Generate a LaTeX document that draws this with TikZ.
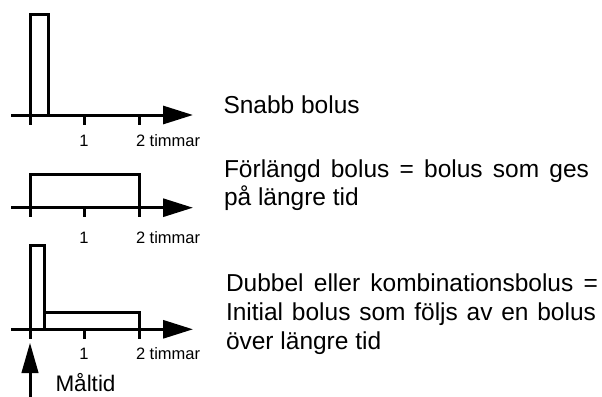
\documentclass[tikz,border=0pt]{standalone}
\usepackage{fontspec}
\setmainfont{Liberation Sans}
\usetikzlibrary{arrows.meta}
\begin{document}
\begin{tikzpicture}[x=1pt,y=-1pt,
  line width=3pt,
  axisline/.style={-{Triangle[length=30pt,width=18pt]}},
  tickline/.style={line cap=butt},
  barbox/.style={line join=miter},
  lbl/.style={inner sep=0pt, anchor=base west, font=\fontsize{24.5}{28}\selectfont},
  ticklbl/.style={inner sep=0pt, anchor=base, font=\fontsize{16.5}{19}\selectfont},
  unitlbl/.style={inner sep=0pt, anchor=base west, font=\fontsize{16.5}{19}\selectfont}]
\useasboundingbox (0,0) rectangle (602,396);

% ---------- chart 1 ----------
\coordinate (a1s) at (11,115);
\coordinate (a1e) at (193,115);
\draw[barbox] (30,115) rectangle (48,15);
\draw[axisline] (a1s) -- (a1e);
\foreach \x in {30,84,139} \draw[tickline] (\x,115) -- (\x,125);
\node[ticklbl] (t1a) at (84,146.7) {1};
\node[unitlbl] (t1b) at (134.5,146.7) {2 timmar};
\node[lbl] (txt1) at (222,113.3) {Snabb bolus};

% ---------- chart 2 ----------
\coordinate (a2s) at (11,207.7);
\coordinate (a2e) at (193,207.7);
\draw[barbox] (30.5,207.7) rectangle (139,174);
\draw[axisline] (a2s) -- (a2e);
\foreach \x in {30.5,84,139} \draw[tickline] (\x,207.7) -- (\x,217);
\node[ticklbl] (t2a) at (84,243.3) {1};
\node[unitlbl] (t2b) at (134.5,243.3) {2 timmar};
\node[lbl] (txt2a) at (222.5,177.5) {\makebox[365pt][s]{Förlängd bolus = bolus som ges}};
\node[lbl] (txt2b) at (222.5,205.5) {på längre tid};

% ---------- chart 3 ----------
\coordinate (a3s) at (11,329.3);
\coordinate (a3e) at (193,329.3);
\draw[barbox] (30,329.3) rectangle (44,245.7);
\draw[barbox] (44,329.3) rectangle (139,312.7);
\draw[axisline] (a3s) -- (a3e);
\foreach \x in {30,84,139} \draw[tickline] (\x,329.3) -- (\x,339);
\node[ticklbl] (t3a) at (84,359) {1};
\node[unitlbl] (t3b) at (134.5,359) {2 timmar};
\node[lbl] (txt3a) at (224.5,291.5) {\makebox[372pt][s]{Dubbel eller kombinationsbolus =}};
\node[lbl] (txt3b) at (224.5,320.3) {\makebox[370pt][s]{Initial bolus som följs av en bolus}};
\node[lbl] (txt3c) at (224.5,349) {över längre tid};

% ---------- meal arrow ----------
\coordinate (m0) at (30,398);
\coordinate (m1) at (30,342.7);
\draw[-{Triangle[length=30.5pt,width=16.5pt]}] (m0) -- (m1);
\node[lbl, font=\fontsize{22.5}{26}\selectfont] (meal) at (54,391.7) {Måltid};
\end{tikzpicture}
\end{document}
